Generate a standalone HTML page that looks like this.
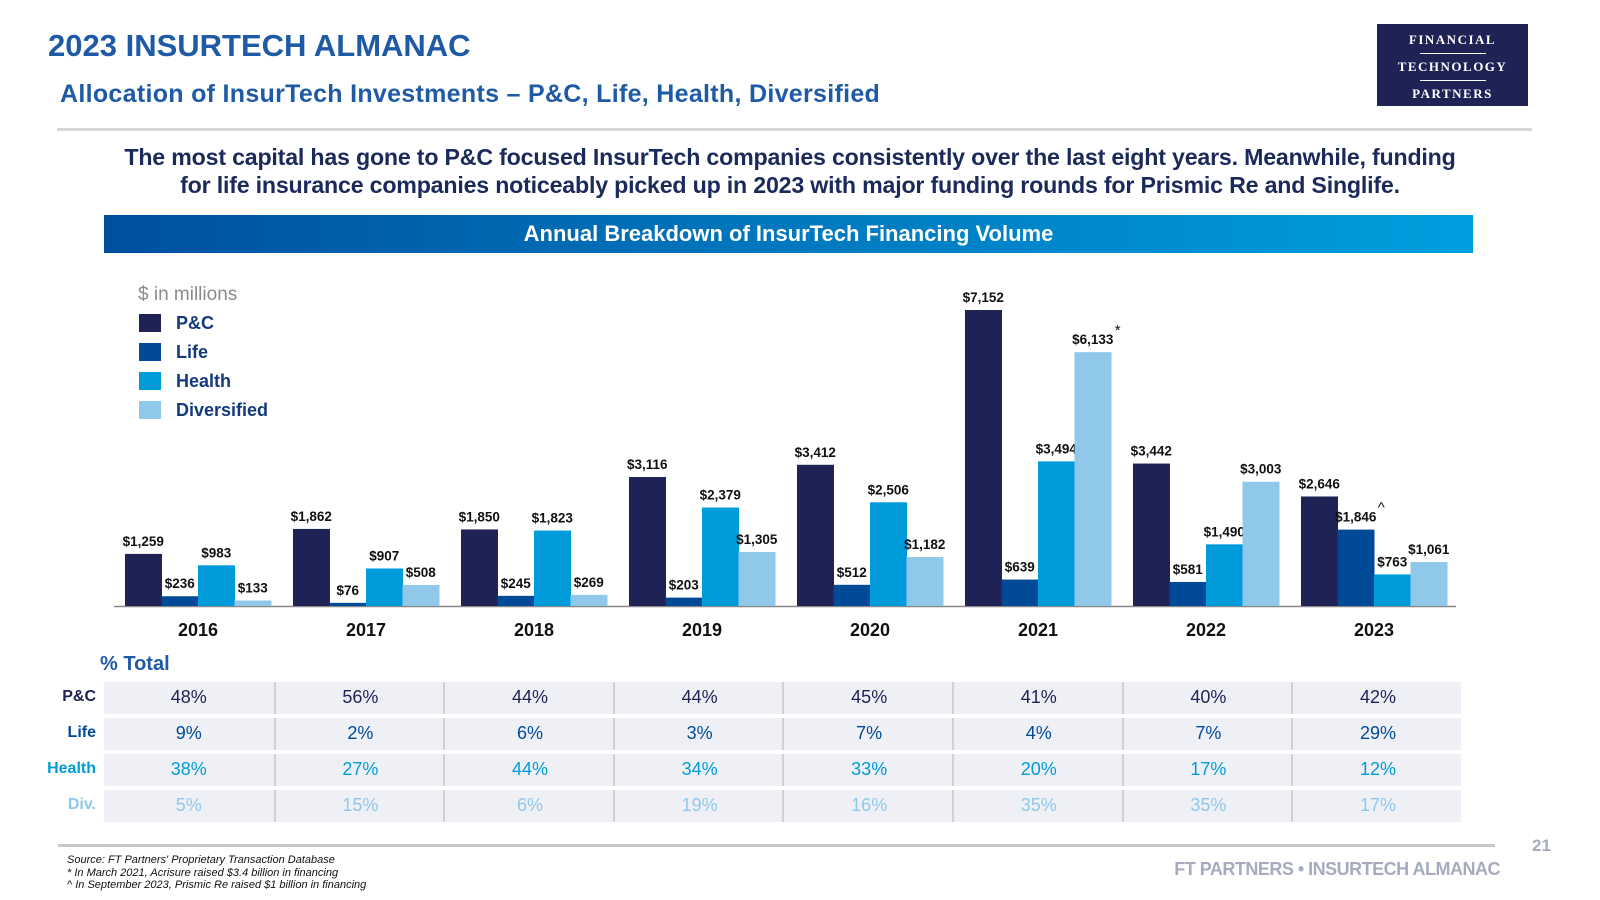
<!DOCTYPE html>
<html><head><meta charset="utf-8">
<style>
html,body{margin:0;padding:0;background:#fff;}
body{width:1600px;height:900px;position:relative;overflow:hidden;font-family:"Liberation Sans",sans-serif;}
.abs{position:absolute;}
</style></head>
<body>
<div class="abs" style="left:48px;top:28px;font-size:31px;font-weight:bold;color:#1f5aa6;letter-spacing:0px;">2023 INSURTECH ALMANAC</div>
<div class="abs" style="left:60px;top:80px;font-size:25px;font-weight:bold;color:#1f5aa6;letter-spacing:0.3px;">Allocation of InsurTech Investments – P&amp;C, Life, Health, Diversified</div>
<div class="abs" style="left:1377px;top:24px;width:151px;height:82px;background:#1e2255;color:#fff;font-family:'Liberation Serif',serif;font-weight:bold;font-size:13px;letter-spacing:1.5px;text-align:center;">
<div style="margin-top:8px;">FINANCIAL</div>
<div style="width:66px;height:1px;background:#fff;margin:5px auto;"></div>
<div>TECHNOLOGY</div>
<div style="width:66px;height:1px;background:#fff;margin:5px auto;"></div>
<div>PARTNERS</div>
</div>
<div class="abs" style="left:57px;top:128px;width:1475px;height:3px;background:#d6d6d6;"></div>
<div class="abs" style="left:50px;top:143px;width:1480px;text-align:center;font-size:23.2px;line-height:28px;color:#1b2a5a;font-weight:bold;letter-spacing:-0.2px;">The most capital has gone to P&amp;C focused InsurTech companies consistently over the last eight years. Meanwhile, funding<br>for life insurance companies noticeably picked up in 2023 with major funding rounds for Prismic Re and Singlife.</div>
<div class="abs" style="left:104px;top:215px;width:1369px;height:38px;background:linear-gradient(90deg,#00509e,#009fdf);color:#fff;font-size:22px;font-weight:bold;text-align:center;line-height:38px;">Annual Breakdown of InsurTech Financing Volume</div>

<svg id="chart" class="abs" style="left:0;top:0;" width="1600" height="900"></svg>

<div class="abs" style="left:100px;top:653px;font-size:20px;font-weight:bold;color:#1f5aa6;">% Total</div>
<div id="table"></div>

<div class="abs" style="left:58px;top:844px;width:1437px;height:3px;background:#c8c8c8;"></div>
<div class="abs" style="left:1532px;top:836px;font-size:17px;font-weight:bold;color:#a7abbf;">21</div>
<div class="abs" style="right:100px;top:859px;font-size:18px;font-weight:bold;color:#a7abbf;letter-spacing:-0.5px;">FT PARTNERS • INSURTECH ALMANAC</div>
<div class="abs" style="left:67px;top:854px;font-size:11px;line-height:12.5px;font-style:italic;color:#111;">Source: FT Partners' Proprietary Transaction Database<br>* In March 2021, Acrisure raised $3.4 billion in financing<br>^ In September 2023, Prismic Re raised $1 billion in financing</div>

<script>
const years = ['2016','2017','2018','2019','2020','2021','2022','2023'];
const seriesNames = ['P&C','Life','Health','Diversified'];
const pc = [1259,1862,1850,3116,3412,7152,3442,2646];
const life = [236,76,245,203,512,639,581,1846];
const health = [983,907,1823,2379,2506,3494,1490,763];
const div = [133,508,269,1305,1182,6133,3003,1061];
const pctPC = ['48%','56%','44%','44%','45%','41%','40%','42%'];
const pctLife = ['9%','2%','6%','3%','7%','4%','7%','29%'];
const pctHealth = ['38%','27%','44%','34%','33%','20%','17%','12%'];
const pctDiv = ['5%','15%','6%','19%','16%','35%','35%','17%'];
const notes = {'5-3':'*','7-1':'^'};

const colors = ['#1e2255','#004a97','#009bdb','#8fc8e8'];
const NS = 'http://www.w3.org/2000/svg';
const svg = document.getElementById('chart');
const baseY = 606, pxPer = 296/7152, x0 = 125, pitch = 168, bw = 36.5;
const yScale = v => baseY - v*pxPer;
const xBar = (g,s) => x0 + g*pitch + s*bw;
function mk(tag, attrs){const e=document.createElementNS(NS,tag);for(const k in attrs)e.setAttribute(k,attrs[k]);svg.appendChild(e);return e;}

let t = mk('text',{x:138,y:300,'font-size':19,fill:'#8a8a8a'});
t.textContent='$ in millions';


seriesNames.forEach((n,i)=>{
  const cy = 323 + i*29;
  const r = mk('rect',{x:139,y:cy-9,width:22,height:18,fill:colors[i]});
  
  
  const tx = mk('text',{x:176,y:cy+6,'font-size':18,'font-weight':'bold',fill:'#143a7a'});
  tx.textContent = n;
  
  
});

const ax = mk('line',{x1:114,x2:1456,y1:baseY+0.5,y2:baseY+0.5,stroke:'#888','stroke-width':1.5});



const all = [pc,life,health,div];
years.forEach((yr,g)=>{
  all.forEach((arr,s)=>{
    const v = arr[g], x = xBar(g,s), y = yScale(v);
    const r = mk('rect',{x:x,y:y,width:bw+0.5,height:baseY-y,fill:colors[s]});
    
    
    const lb = mk('text',{x:x+bw/2,y:y-8,'font-size':13.5,'font-weight':'bold','text-anchor':'middle',fill:'#111'});
    lb.textContent = '$'+v.toLocaleString('en-US');
    
    
    const nk = notes[g+'-'+s];
    if(nk){
      const n = mk('text',{x:x+bw/2+22,y:y-17,'font-size':15,fill:'#111'});
      n.textContent = nk;
      
      
    }
  });
  const yl = mk('text',{x:x0+g*pitch+2*bw,y:636,'font-size':18,'font-weight':'bold','text-anchor':'middle',fill:'#111'});
  yl.textContent = yr;
  
  
});

const tbl = document.getElementById('table');
const rows = [['P&C',pctPC],['Life',pctLife],['Health',pctHealth],['Div.',pctDiv]];
rows.forEach((row,i)=>{
  const top = 682 + i*36;
  const bg = document.createElement('div');
  bg.className='abs';
  bg.style.cssText=`left:104px;top:${top}px;width:1357px;height:32px;background:#eef0f6;`;
  
  
  tbl.appendChild(bg);
  const lab = document.createElement('div');
  lab.className='abs';
  lab.style.cssText=`right:${1600-96}px;top:${top+6}px;font-size:16px;font-weight:bold;color:${colors[i]};`;
  lab.textContent=row[0];
  
  
  tbl.appendChild(lab);
  row[1].forEach((v,c)=>{
    const cell = document.createElement('div');
    cell.className='abs';
    cell.style.cssText=`left:${104+c*169.6}px;top:${top+5}px;width:169.6px;text-align:center;font-size:18px;color:${colors[i]};`+(c>0?'border-left:2px solid #d0d0d0;margin-top:-5px;padding-top:5px;height:27px;':'');
    cell.textContent=v;
    
    
    tbl.appendChild(cell);
  });
});
</script>
</body></html>
